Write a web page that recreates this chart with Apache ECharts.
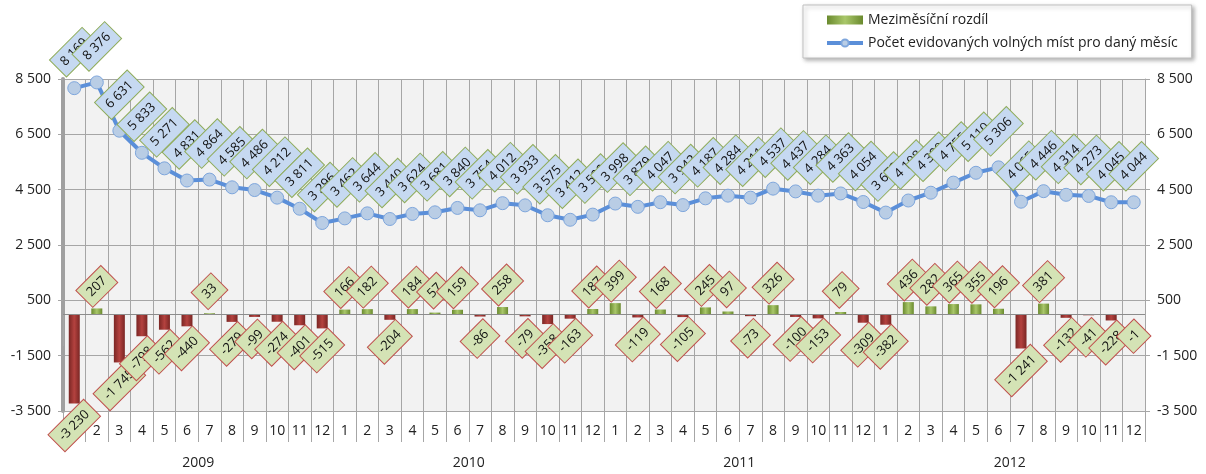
<!DOCTYPE html>
<html>
<head>
<meta charset="utf-8">
<script src="https://cdn.jsdelivr.net/npm/echarts@6/dist/echarts.min.js"></script>
<style>
  html, body { margin: 0; padding: 0; background: #fff; }
  #chart { width: 1206px; height: 474px; }
</style>
</head>
<body>
<div id="chart"></div>
<script>
const months = ['1','2','3','4','5','6','7','8','9','10','11','12',
                '1','2','3','4','5','6','7','8','9','10','11','12',
                '1','2','3','4','5','6','7','8','9','10','11','12',
                '1','2','3','4','5','6','7','8','9','10','11','12'];
const years = ['2009', '2010', '2011', '2012'];

// Meziměsíční rozdíl
const diffs = [-3230, 207, -1745, -798, -562, -440, 33, -279, -99, -274, -401, -515,
               166, 182, -204, 184, 57, 159, -86, 258, -79, -358, -163, 187,
               399, -119, 168, -105, 245, 97, -73, 326, -100, -153, 79, -309,
               -382, 436, 282, 365, 355, 196, -1241, 381, -132, -41, -228, -1];

// Počet evidovaných volných míst
const vacancies = [8169, 8376, 6631, 5833, 5271, 4831, 4864, 4585, 4486, 4212, 3811, 3296,
                   3462, 3644, 3440, 3624, 3681, 3840, 3754, 4012, 3933, 3575, 3412, 3599,
                   3998, 3879, 4047, 3942, 4187, 4284, 4211, 4537, 4437, 4284, 4363, 4054,
                   3672, 4108, 4390, 4755, 5110, 5306, 4065, 4446, 4314, 4273, 4045, 4044];

const fmt = v => String(v).replace(/\B(?=(\d{3})+(?!\d))/g, ' ');
const FONT = 'Open Sans';
const gridColor = '#a6a6a6';

const redBar = new echarts.graphic.LinearGradient(0, 0, 1, 0, [
  { offset: 0, color: '#7a2624' }, { offset: 0.5, color: '#b4423f' }, { offset: 1, color: '#7a2624' }
]);
const greenBar = new echarts.graphic.LinearGradient(0, 0, 1, 0, [
  { offset: 0, color: '#6a8a2e' }, { offset: 0.5, color: '#a9c76a' }, { offset: 1, color: '#6a8a2e' }
]);

const chart = echarts.init(document.getElementById('chart'));

const yAxisCommon = {
  type: 'value',
  min: -3500,
  max: 8500,
  interval: 2000,
  axisLabel: { formatter: fmt, color: '#222', fontFamily: FONT, fontSize: 14, margin: 12 },
  axisTick: { show: true, length: 5, lineStyle: { color: gridColor } },
  splitLine: { show: true, lineStyle: { color: gridColor, width: 1 } }
};

const option = {
  animation: false,
  grid: {
    left: 63, right: 61, top: 79, bottom: 63,
    show: true, backgroundColor: '#f2f2f2', borderWidth: 0
  },
  legend: {
    orient: 'vertical',
    left: 803, top: 5,
    padding: [8, 14, 8, 22],
    itemGap: 9,
    itemWidth: 36, itemHeight: 9,
    backgroundColor: '#fff',
    borderColor: '#bfbfbf', borderWidth: 1,
    shadowBlur: 4, shadowColor: 'rgba(0,0,0,0.3)', shadowOffsetX: 2, shadowOffsetY: 2,
    textStyle: { fontFamily: FONT, fontSize: 14, color: '#222' },
    data: [
      { name: 'Meziměsíční rozdíl', icon: 'rect', itemStyle: { color: greenBar } },
      { name: 'Počet evidovaných volných míst pro daný měsíc', lineStyle: { width: 4 } }
    ]
  },
  xAxis: [
    {
      type: 'category',
      data: months,
      position: 'bottom',
      axisLine: { onZero: false, lineStyle: { color: gridColor } },
      axisTick: { show: true, interval: 0, length: 31, lineStyle: { color: gridColor } },
      axisLabel: { interval: 0, color: '#222', fontFamily: FONT, fontSize: 14, margin: 13 },
      splitLine: { show: true, interval: 0, lineStyle: { color: gridColor } }
    },
    {
      type: 'category',
      data: years,
      position: 'bottom',
      offset: 31,
      axisLine: { show: false },
      axisTick: { show: true, interval: 0, length: 32, lineStyle: { color: gridColor } },
      axisLabel: { interval: 0, color: '#222', fontFamily: FONT, fontSize: 14, margin: 14 },
      splitLine: { show: false }
    }
  ],
  yAxis: [
    Object.assign({}, yAxisCommon, {
      position: 'left',
      axisLine: { show: true, lineStyle: { color: '#a0a0a0', width: 4 } }
    }),
    Object.assign({}, yAxisCommon, {
      position: 'right',
      axisLine: { show: true, lineStyle: { color: gridColor, width: 1 } },
      splitLine: { show: false }
    })
  ],
  series: [
    {
      name: 'Meziměsíční rozdíl',
      type: 'bar',
      data: diffs,
      barWidth: 11,
      itemStyle: {
        color: p => (p.value < 0 ? redBar : greenBar)
      },
      label: {
        show: true,
        position: 'outside',
        distance: 22,
        rotate: 45,
        align: 'center',
        verticalAlign: 'middle',
        formatter: p => fmt(p.value),
        fontFamily: FONT,
        fontSize: 13,
        lineHeight: 15,
        color: '#111',
        backgroundColor: '#d4e3b5',
        borderColor: '#c0504d',
        borderWidth: 1,
        padding: [4, 6]
      },
      markLine: {
        silent: true,
        symbol: 'none',
        label: { show: false },
        lineStyle: { color: '#8c8c8c', type: 'solid', width: 1 },
        data: [{ yAxis: 0 }]
      },
      z: 2
    },
    {
      name: 'Počet evidovaných volných míst pro daný měsíc',
      type: 'line',
      data: vacancies,
      symbol: 'circle',
      symbolSize: 13,
      lineStyle: { color: '#5b8fd9', width: 4 },
      itemStyle: { color: '#b9cde5', borderColor: '#7ea6dc', borderWidth: 1 },
      label: {
        show: true,
        position: 'top',
        distance: 29,
        rotate: 45,
        align: 'center',
        verticalAlign: 'middle',
        formatter: p => fmt(p.value),
        fontFamily: FONT,
        fontSize: 13,
        lineHeight: 15,
        color: '#111',
        backgroundColor: '#c6d9f1',
        borderColor: '#8fac5a',
        borderWidth: 1,
        padding: [4, 6]
      },
      z: 3
    }
  ]
};

chart.setOption(option);
</script>
</body>
</html>
